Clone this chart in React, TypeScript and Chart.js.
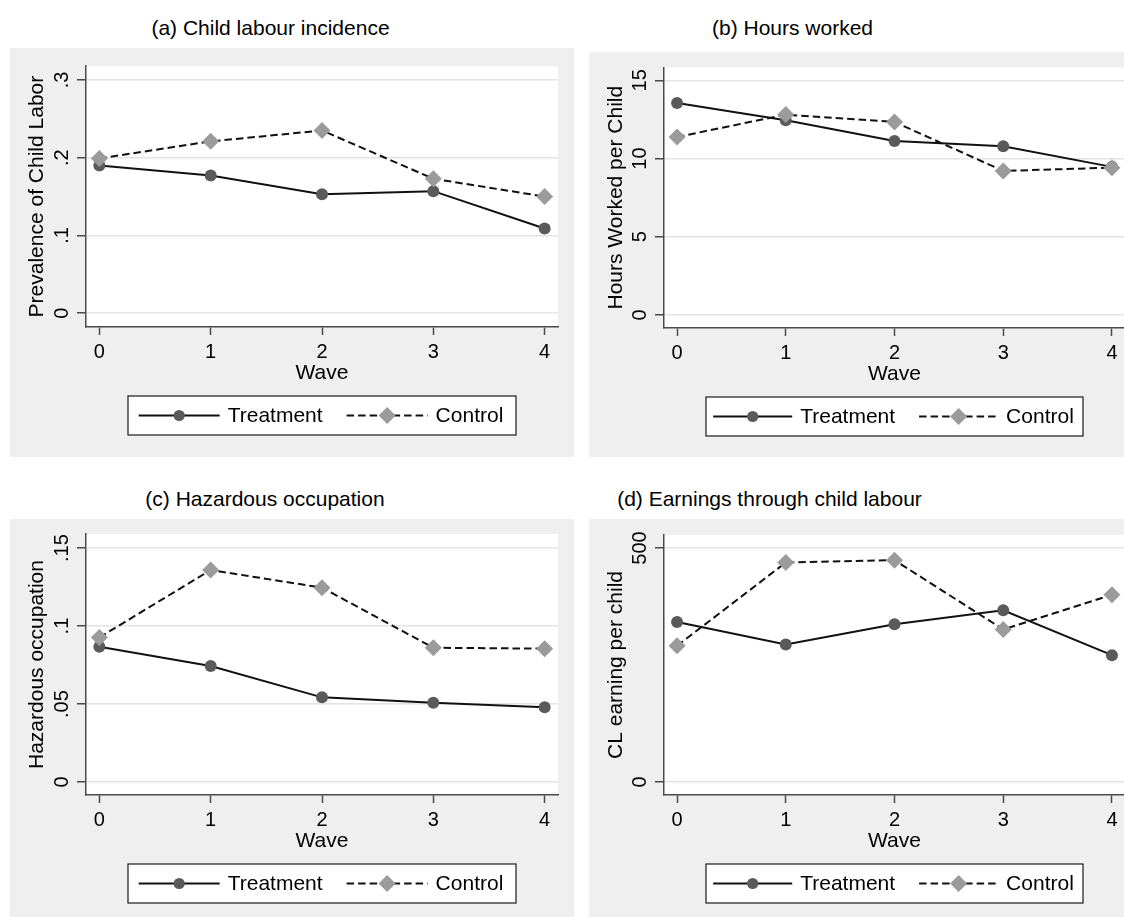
import React, { useEffect, useRef } from 'react';
import { Chart, registerables } from 'chart.js';

Chart.register(...registerables);

const FONT = '"Liberation Sans", Arial, Helvetica, sans-serif';

// ---------- data ----------
const waves = [0, 1, 2, 3, 4];
const waveLabels = ['0', '1', '2', '3', '4'];
const seriesLabels = ['Treatment', 'Control'];
const xAxisTitle = 'Wave';

const incidenceTreatment = [0.19, 0.177, 0.153, 0.157, 0.109];
const incidenceControl = [0.199, 0.221, 0.235, 0.173, 0.15];
const incidenceTicks = [0, 0.1, 0.2, 0.3];
const incidenceTickLabels = ['0', '.1', '.2', '.3'];

const hoursTreatment = [13.55, 12.45, 11.12, 10.79, 9.47];
const hoursControl = [11.38, 12.81, 12.34, 9.21, 9.42];
const hoursTicks = [0, 5, 10, 15];
const hoursTickLabels = ['0', '5', '10', '15'];

const hazardTreatment = [0.0867, 0.0744, 0.0543, 0.0508, 0.0479];
const hazardControl = [0.0927, 0.1359, 0.1246, 0.0861, 0.0855];
const hazardTicks = [0, 0.05, 0.1, 0.15];
const hazardTickLabels = ['0', '.05', '.1', '.15'];

const earningsTreatment = [342, 294, 337, 367, 271];
const earningsControl = [291, 469, 474, 326, 400];
const earningsTicks = [0, 500];
const earningsTickLabels = ['0', '500'];

// ---------- styles ----------
const INK = '#000000';
const AXIS = '#4a4a4a';
const GRID = '#e4e4e4';
const REGION = '#efefef';
const LINE = '#111111';
const TREAT_MARK = '#5a5a5a';
const CTRL_MARK = '#9b9b9b';
const CTRL_DASH = [7.5, 4];

type Panel = {
  title: string;
  yTitle: string;
  treatment: number[];
  control: number[];
  yTicks: number[];
  yTickLabels: string[];
  yMin: number;
  yMax: number;
  left: number;
  top: number;
  width: number;
  height: number;
  titleX: number;
  titleTop: number;
  padTop: number;
  padRight: number;
  padBottom: number;
  yAxisWidth: number;
  legendWidth: number;
  lineLen: number;
};

const panels: Panel[] = [
  {
    title: '(a) Child labour incidence',
    yTitle: 'Prevalence of Child Labor',
    treatment: incidenceTreatment,
    control: incidenceControl,
    yTicks: incidenceTicks,
    yTickLabels: incidenceTickLabels,
    yMin: -0.0177,
    yMax: 0.3177,
    left: 10, top: 48, width: 564, height: 409,
    titleX: 270.5, titleTop: 15.7,
    padTop: 14, padRight: 16, padBottom: 70, yAxisWidth: 76,
    legendWidth: 388, lineLen: 81,
  },
  {
    title: '(b) Hours worked',
    yTitle: 'Hours Worked per Child',
    treatment: hoursTreatment,
    control: hoursControl,
    yTicks: hoursTicks,
    yTickLabels: hoursTickLabels,
    yMin: -0.83,
    yMax: 15.83,
    left: 589, top: 52, width: 560, height: 405,
    titleX: 792.5, titleTop: 15.7,
    padTop: 15, padRight: 24, padBottom: 69, yAxisWidth: 75,
    legendWidth: 377, lineLen: 79,
  },
  {
    title: '(c) Hazardous occupation',
    yTitle: 'Hazardous occupation',
    treatment: hazardTreatment,
    control: hazardControl,
    yTicks: hazardTicks,
    yTickLabels: hazardTickLabels,
    yMin: -0.0083,
    yMax: 0.159,
    left: 10, top: 519, width: 564, height: 398,
    titleX: 265, titleTop: 487.4,
    padTop: 15, padRight: 16, padBottom: 62, yAxisWidth: 76,
    legendWidth: 388, lineLen: 81,
  },
  {
    title: '(d) Earnings through child labour',
    yTitle: 'CL earning per child',
    treatment: earningsTreatment,
    control: earningsControl,
    yTicks: earningsTicks,
    yTickLabels: earningsTickLabels,
    yMin: -27.8,
    yMax: 527.8,
    left: 589, top: 519, width: 560, height: 398,
    titleX: 769.5, titleTop: 487.4,
    padTop: 16, padRight: 24, padBottom: 62, yAxisWidth: 75,
    legendWidth: 377, lineLen: 79,
  },
];

function measureWidest(labels: string[], size: number): number {
  const c = document.createElement('canvas').getContext('2d');
  if (!c) return 0;
  c.font = `${size}px ${FONT}`;
  return Math.max(...labels.map((l) => c.measureText(l).width));
}

const plotBackground = {
  id: 'plotBackground',
  beforeDraw(chart: any) {
    const { ctx, chartArea: a } = chart;
    ctx.save();
    ctx.fillStyle = '#ffffff';
    ctx.fillRect(a.left, a.top, a.right - a.left, a.bottom - a.top);
    ctx.restore();
  },
};

function drawMarker(ctx: CanvasRenderingContext2D, style: string, x: number, y: number, r: number, color: string) {
  ctx.fillStyle = color;
  ctx.beginPath();
  if (style === 'rectRot') {
    ctx.moveTo(x, y - r);
    ctx.lineTo(x + r, y);
    ctx.lineTo(x, y + r);
    ctx.lineTo(x - r, y);
    ctx.closePath();
  } else {
    ctx.arc(x, y, r, 0, Math.PI * 2);
  }
  ctx.fill();
}

function makeLegend(width: number, lineLen: number) {
  return {
    id: 'boxLegend',
    afterDraw(chart: any) {
      const { ctx, chartArea } = chart;
      const height = 39;
      const cx = (chartArea.left + chartArea.right) / 2;
      const top = chartArea.bottom + 69;
      const left = cx - width / 2;
      ctx.save();
      ctx.fillStyle = '#ffffff';
      ctx.fillRect(left, top, width, height);
      ctx.strokeStyle = '#1a1a1a';
      ctx.lineWidth = 1.2;
      ctx.setLineDash([]);
      ctx.strokeRect(left, top, width, height);
      ctx.font = `21px ${FONT}`;
      const ds = [...chart.data.datasets].sort((a: any, b: any) => a.legendIndex - b.legendIndex);
      const gapText = 8;
      const gapItem = 24;
      const textW = ds.map((d: any) => ctx.measureText(d.label).width);
      let total = 0;
      ds.forEach((_: any, i: number) => {
        total += lineLen + gapText + textW[i];
      });
      total += gapItem * (ds.length - 1);
      let x = cx - total / 2 - 1;
      const y = top + height / 2;
      ds.forEach((d: any, i: number) => {
        ctx.strokeStyle = d.borderColor;
        ctx.lineWidth = d.borderWidth;
        ctx.setLineDash(d.borderDash || []);
        ctx.beginPath();
        ctx.moveTo(x, y);
        ctx.lineTo(x + lineLen, y);
        ctx.stroke();
        ctx.setLineDash([]);
        drawMarker(ctx, d.pointStyle, x + lineLen / 2, y, d.legendRadius, d.pointBackgroundColor);
        x += lineLen + gapText;
        ctx.fillStyle = INK;
        ctx.textAlign = 'left';
        ctx.textBaseline = 'middle';
        ctx.fillText(d.label, x, y + 1);
        x += textW[i] + gapItem;
      });
      ctx.restore();
    },
  };
}

function PanelChart({ p }: { p: Panel }) {
  const ref = useRef<HTMLCanvasElement | null>(null);
  useEffect(() => {
    if (!ref.current) return;
    const yPad = 14.5 - measureWidest(p.yTickLabels, 20) / 2;
    const chart = new Chart(ref.current, {
      type: 'line',
      data: {
        datasets: [
          {
            label: seriesLabels[0],
            legendIndex: 0,
            data: waves.map((w, i) => ({ x: w, y: p.treatment[i] })),
            borderColor: LINE,
            borderWidth: 2,
            pointStyle: 'circle',
            pointRadius: 6,
            legendRadius: 5.6,
            pointBackgroundColor: TREAT_MARK,
            pointBorderColor: TREAT_MARK,
            pointBorderWidth: 0,
            tension: 0,
            order: 1,
          },
          {
            label: seriesLabels[1],
            legendIndex: 1,
            data: waves.map((w, i) => ({ x: w, y: p.control[i] })),
            borderColor: LINE,
            borderWidth: 2,
            borderDash: CTRL_DASH,
            pointStyle: 'rectRot',
            pointRadius: 8.5,
            legendRadius: 8.5,
            pointBackgroundColor: CTRL_MARK,
            pointBorderColor: CTRL_MARK,
            pointBorderWidth: 0,
            tension: 0,
            order: 0,
          },
        ] as any,
      },
      options: {
        animation: false,
        responsive: false,
        events: [],
        layout: { padding: { left: 0, top: p.padTop, right: p.padRight, bottom: p.padBottom } },
        plugins: { legend: { display: false }, tooltip: { enabled: false } },
        scales: {
          x: {
            type: 'linear',
            min: -0.12,
            max: 4.12,
            afterBuildTicks: (s: any) => {
              s.ticks = waves.map((v) => ({ value: v }));
            },
            afterFit: (s: any) => {
              s.height = 60;
            },
            ticks: {
              callback: (_v: any, i: number) => waveLabels[i],
              font: { size: 20, family: FONT },
              color: INK,
              padding: 5,
              maxRotation: 0,
              autoSkip: false,
            },
            grid: {
              display: true,
              drawOnChartArea: false,
              drawTicks: true,
              tickLength: 8,
              tickColor: AXIS,
              tickWidth: 1.5,
            },
            border: { display: true, color: AXIS, width: 1.5 },
            title: {
              display: true,
              text: xAxisTitle,
              font: { size: 21, family: FONT, lineHeight: 1.2 },
              color: INK,
              padding: { top: 0, bottom: 1.5 },
            },
          },
          y: {
            type: 'linear',
            min: p.yMin,
            max: p.yMax,
            afterBuildTicks: (s: any) => {
              s.ticks = p.yTicks.map((v) => ({ value: v }));
            },
            afterFit: (s: any) => {
              s.width = p.yAxisWidth;
            },
            ticks: {
              callback: (_v: any, i: number) => p.yTickLabels[i],
              font: { size: 20, family: FONT },
              color: INK,
              padding: yPad,
              minRotation: 90,
              maxRotation: 90,
              crossAlign: 'center',
              autoSkip: false,
            },
            grid: {
              color: GRID,
              lineWidth: 1.5,
              drawTicks: true,
              tickLength: 9,
              tickColor: AXIS,
              tickWidth: 1.5,
            },
            border: { display: true, color: AXIS, width: 1.5 },
            title: {
              display: true,
              text: p.yTitle,
              font: { size: 21, family: FONT, lineHeight: 1.2 },
              color: INK,
              padding: { top: 15, bottom: 0 },
            },
          },
        },
      } as any,
      plugins: [plotBackground, makeLegend(p.legendWidth, p.lineLen)],
    });
    return () => chart.destroy();
  }, [p]);

  return (
    <>
      <div
        style={{
          position: 'absolute',
          left: p.titleX,
          top: p.titleTop,
          transform: 'translateX(-50%)',
          whiteSpace: 'nowrap',
          font: `21px ${FONT}`,
          lineHeight: '24px',
          color: INK,
        }}
      >
        {p.title}
      </div>
      <div
        style={{
          position: 'absolute',
          left: p.left,
          top: p.top,
          width: p.width,
          height: p.height,
          background: REGION,
        }}
      >
        <canvas ref={ref} width={p.width} height={p.height} style={{ display: 'block' }} />
      </div>
    </>
  );
}

export default function App() {
  return (
    <div
      style={{
        position: 'absolute',
        left: 0,
        top: 0,
        width: 1124,
        height: 917,
        overflow: 'hidden',
        background: '#ffffff',
      }}
    >
      {panels.map((p) => (
        <PanelChart key={p.title} p={p} />
      ))}
    </div>
  );
}
